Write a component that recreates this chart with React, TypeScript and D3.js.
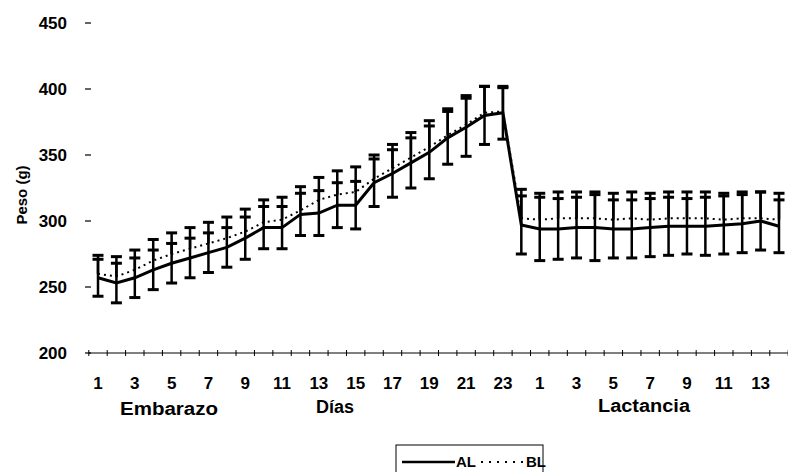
import React from "react";
import * as d3 from "d3";

const embDays: string[] = Array.from({ length: 24 }, (_, i) => String(i + 1));
const lacDays: string[] = Array.from({ length: 14 }, (_, i) => String(i + 1));

const alEmb = [257, 253, 257, 263, 268, 272, 276, 280, 287, 295, 295, 305, 306, 312, 312, 329, 336, 344, 352, 363, 371, 380, 382, 297];
const alLac = [294, 294, 295, 295, 294, 294, 295, 296, 296, 296, 297, 298, 300, 296];
const blEmb = [260, 258, 263, 270, 275, 279, 283, 287, 292, 299, 301, 308, 316, 320, 322, 332, 340, 348, 356, 365, 373, 382, 383, 302];
const blLac = [301, 302, 302, 302, 301, 302, 301, 302, 302, 302, 301, 302, 302, 301];
const alErrEmb = [14, 15, 15, 15, 15, 15, 15, 15, 16, 16, 16, 16, 17, 17, 18, 18, 18, 19, 20, 20, 22, 22, 20, 22];
const alErrLac = [24, 23, 23, 25, 22, 22, 22, 22, 21, 22, 22, 22, 22, 20];
const blErrEmb = [14, 15, 15, 16, 16, 16, 16, 16, 17, 17, 17, 18, 17, 18, 19, 18, 18, 19, 20, 20, 22, 20, 18, 22];
const blErrLac = [20, 20, 20, 20, 20, 20, 20, 20, 20, 20, 20, 20, 20, 20];

const yTicks = [200, 250, 300, 350, 400, 450];
const groupLabels = ["Embarazo", "Días", "Lactancia"];
const legendLabels = ["AL", "BL"];

export default function App() {
  const cats = [...embDays.map((d) => "E" + d), ...lacDays.map((d) => "L" + d)];
  const labelOf = (c: string) => c.slice(1);
  const al = [...alEmb, ...alLac];
  const bl = [...blEmb, ...blLac];
  const alErr = [...alErrEmb, ...alErrLac];
  const blErr = [...blErrEmb, ...blErrLac];

  const x = d3.scalePoint<string>().domain(cats).range([98, 779]);
  const step = x.step();
  const y = d3.scaleLinear().domain([200, 450]).range([353, 23]);
  const line = d3
    .line<number>()
    .x((_, i) => x(cats[i]) as number)
    .y((v) => y(v));

  const font = "'Liberation Sans', Arial, sans-serif";
  const capW = 5.5;

  return (
    <svg width={788} height={472} style={{ position: "absolute", left: 0, top: 0, background: "#fff" }}>
      {yTicks.map((t) => (
        <g key={t}>
          <text x={67} y={y(t) + 6} textAnchor="end" fontFamily={font} fontWeight="bold" fontSize={17}>
            {t}
          </text>
          <line x1={85} x2={91} y1={y(t)} y2={y(t)} stroke="#000" strokeWidth={1.2} />
        </g>
      ))}
      <text
        transform={`translate(27,195) rotate(-90)`}
        textAnchor="middle"
        fontFamily={font}
        fontWeight="bold"
        fontSize={15}
      >
        Peso (g)
      </text>
      <line x1={x(cats[0])! - step / 2} x2={x(cats[cats.length - 1])! + step / 2} y1={y(200)} y2={y(200)} stroke="#000" strokeWidth={1} />
      {cats.map((c) => (
        <line key={"t" + c} x1={x(c)! - step / 2} x2={x(c)! - step / 2} y1={y(200) - 3} y2={y(200) + 3} stroke="#000" strokeWidth={1} />
      ))}
      <line x1={x(cats[cats.length - 1])! + step / 2} x2={x(cats[cats.length - 1])! + step / 2} y1={y(200) - 3} y2={y(200) + 3} stroke="#000" />
      {cats.map((c) =>
        Number(labelOf(c)) % 2 === 1 ? (
          <text key={"l" + c} x={x(c)} y={389} textAnchor="middle" fontFamily={font} fontWeight="bold" fontSize={17}>
            {labelOf(c)}
          </text>
        ) : null
      )}
      <text x={169} y={415} textAnchor="middle" fontFamily={font} fontWeight="bold" fontSize={18} textLength={98} lengthAdjust="spacingAndGlyphs">{groupLabels[0]}</text>
      <text x={335} y={413} textAnchor="middle" fontFamily={font} fontWeight="bold" fontSize={18}>{groupLabels[1]}</text>
      <text x={644} y={412} textAnchor="middle" fontFamily={font} fontWeight="bold" fontSize={18} textLength={92} lengthAdjust="spacingAndGlyphs">{groupLabels[2]}</text>

      {cats.map((c, i) => {
        const cx = x(c)!;
        return (
          <g key={"be" + c} stroke="#000" strokeWidth={2.5}>
            <line x1={cx} x2={cx} y1={y(bl[i])} y2={y(bl[i] + blErr[i])} />
            <line x1={cx - capW} x2={cx + capW} y1={y(bl[i] + blErr[i])} y2={y(bl[i] + blErr[i])} strokeWidth={3} />
          </g>
        );
      })}
      {cats.map((c, i) => {
        const cx = x(c)!;
        return (
          <g key={"ae" + c} stroke="#000" strokeWidth={2.5}>
            <line x1={cx} x2={cx} y1={y(al[i] - alErr[i])} y2={y(al[i] + alErr[i])} />
            <line x1={cx - capW} x2={cx + capW} y1={y(al[i] - alErr[i])} y2={y(al[i] - alErr[i])} strokeWidth={3} />
            <line x1={cx - capW} x2={cx + capW} y1={y(al[i] + alErr[i])} y2={y(al[i] + alErr[i])} strokeWidth={3} />
          </g>
        );
      })}
      <path d={line(bl) || ""} fill="none" stroke="#000" strokeWidth={2} strokeDasharray="2 4" />
      <path d={line(al) || ""} fill="none" stroke="#000" strokeWidth={3} />

      <rect x={396} y={445} width={147} height={32} fill="none" stroke="#000" strokeWidth={1} />
      <line x1={402} x2={455} y1={462} y2={462} stroke="#000" strokeWidth={2.5} />
      <text x={456} y={467} fontFamily={font} fontWeight="bold" fontSize={15}>{legendLabels[0]}</text>
      <line x1={481} x2={526} y1={462} y2={462} stroke="#000" strokeWidth={2} strokeDasharray="2 6" />
      <text x={526} y={467} fontFamily={font} fontWeight="bold" fontSize={15}>{legendLabels[1]}</text>
    </svg>
  );
}
